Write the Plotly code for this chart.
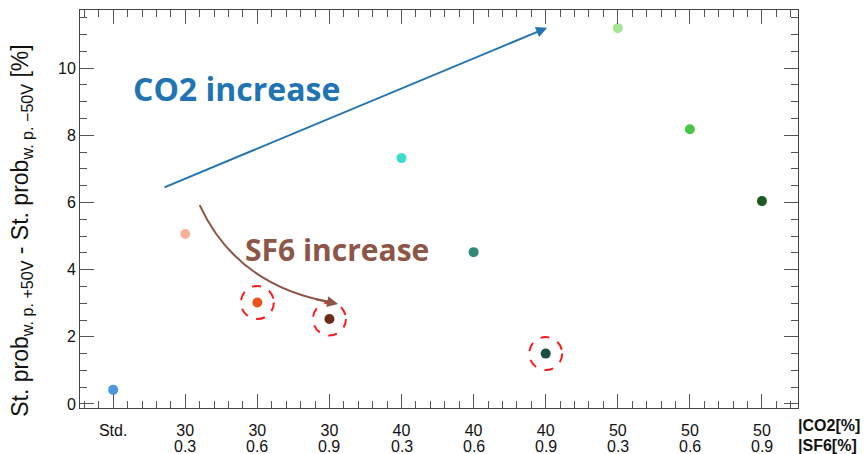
import plotly.graph_objects as go

# Gas mixtures: CO2 fraction / SF6 fraction, plus the standard mixture
co2 = ["Std.", "30", "30", "30", "40", "40", "40", "50", "50", "50"]
sf6 = ["", "0.3", "0.6", "0.9", "0.3", "0.6", "0.9", "0.3", "0.6", "0.9"]
diff_prob = [0.42, 5.06, 3.02, 2.53, 7.32, 4.52, 1.50, 11.19, 8.18, 6.04]
colors = ["#4a97e6", "#f9b29a", "#e8561c", "#6b2d15", "#3fdccb",
          "#2f8a78", "#1c4e46", "#a6e595", "#49c648", "#1f5a22"]
highlighted = [2, 3, 6]

xpos = list(range(len(co2)))
label_font = dict(family="Liberation Sans, Arial", size=16, color="#111")

fig = go.Figure()
fig.add_trace(go.Scatter(
    x=xpos, y=diff_prob, mode="markers",
    marker=dict(size=10, color=colors, line=dict(width=0)),
    showlegend=False, hoverinfo="skip",
))

axis_common = dict(
    showline=True, linecolor="#444", linewidth=1, mirror="ticks",
    ticks="inside", tickcolor="#555", tickwidth=1, ticklen=14,
    showgrid=False, zeroline=False, automargin=False,
    tickfont=label_font,
)

fig.update_xaxes(
    **axis_common, range=[-0.46, 9.5],
    tickmode="array", tickvals=xpos, ticktext=co2, ticklabelstandoff=8,
    minor=dict(ticks="inside", ticklen=7, tickcolor="#555", dtick=0.2,
               tick0=0, showgrid=False),
)
fig.update_yaxes(
    **axis_common, range=[-0.12, 11.73], tickvals=[0, 2, 4, 6, 8, 10],
    minor=dict(ticks="inside", ticklen=7, tickcolor="#555", dtick=0.5,
               tick0=0, showgrid=False),
)

# Second row of category labels: SF6 fraction
for x, s in zip(xpos, sf6):
    if s:
        fig.add_annotation(x=x, xref="x", y=-0.096, yref="paper",
                           yanchor="middle", text=s, showarrow=False,
                           font=label_font)

# Dashed rings around selected mixtures
for i in highlighted:
    fig.add_shape(type="circle", xref="x", yref="y",
                  xsizemode="pixel", ysizemode="pixel",
                  xanchor=xpos[i], yanchor=diff_prob[i],
                  x0=-16.5, x1=16.5, y0=-16.5, y1=16.5,
                  line=dict(color="#ff1a1a", width=2, dash="dash"))

blue = "#2174b4"
brown = "#8c5648"

# CO2 trend arrow
fig.add_annotation(x=6.02, y=11.2, ax=0.69, ay=6.43, xref="x", yref="y",
                   axref="x", ayref="y", text="", showarrow=True,
                   arrowhead=2, arrowsize=1.1, arrowwidth=2, arrowcolor=blue)
fig.add_annotation(x=1.71, y=9.4, xref="x", yref="y", text="<b>CO2 increase</b>",
                   showarrow=False,
                   font=dict(family="Open Sans", size=32, color=blue))

# SF6 trend: curved path with arrowhead at the end
fig.add_shape(type="path", xref="x", yref="y",
              path="M 1.20,5.92 Q 1.72,3.5 3.05,3.02",
              line=dict(color=brown, width=2))
fig.add_annotation(x=3.12, y=2.98, ax=2.8, ay=3.12, xref="x", yref="y",
                   axref="x", ayref="y", text="", showarrow=True,
                   arrowhead=2, arrowsize=1.1, arrowwidth=2, arrowcolor=brown)
fig.add_annotation(x=3.11, y=4.6, xref="x", yref="y", text="<b>SF6 increase</b>",
                   showarrow=False,
                   font=dict(family="Open Sans", size=30, color=brown))

# Row labels for the category axis
row_font = dict(family="Liberation Sans, Arial", size=16, color="#111")
fig.add_annotation(x=1.0, xref="paper", y=-0.045, yref="paper",
                   xanchor="left", yanchor="middle", xshift=-2,
                   text="<b>|CO2[%]</b>", showarrow=False, font=row_font)
fig.add_annotation(x=1.0, xref="paper", y=-0.094, yref="paper",
                   xanchor="left", yanchor="middle", xshift=-2,
                   text="<b>|SF6[%]</b>", showarrow=False, font=row_font)

# Vertical axis title
fig.add_annotation(
    x=-0.081, y=0.445, xref="paper", yref="paper", textangle=-90,
    xanchor="center", yanchor="middle", showarrow=False,
    text="St. prob<sub>w. p. +50V</sub> - St. prob<sub>w. p. \u221250V</sub> [%]",
    font=dict(family="Liberation Sans, Arial", size=23, color="#111"),
)

fig.update_layout(
    width=868, height=454,
    margin=dict(l=80, r=70, t=10, b=46),
    paper_bgcolor="white", plot_bgcolor="white",
)

fig.write_html("out.html")
